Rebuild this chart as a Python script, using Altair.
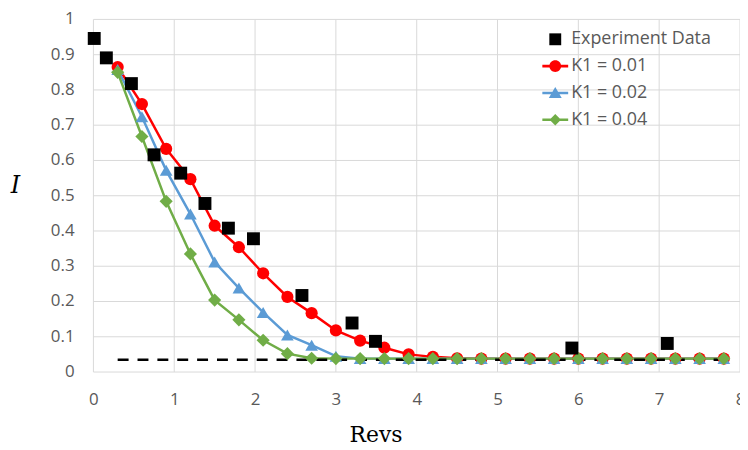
import altair as alt
import pandas as pd

# ---- data ----
series_names = ["Experiment Data", "K1 = 0.01", "K1 = 0.02", "K1 = 0.04"]
series_colors = ["#000000", "#ff0000", "#5b9bd5", "#70ad47"]

model_x = [0.3, 0.6, 0.9, 1.2, 1.5, 1.8, 2.1, 2.4, 2.7, 3.0, 3.3, 3.6, 3.9,
           4.2, 4.5, 4.8, 5.1, 5.4, 5.7, 6.0, 6.3, 6.6, 6.9, 7.2, 7.5, 7.8]
k1_001 = [0.865, 0.760, 0.633, 0.547, 0.415, 0.354, 0.280, 0.213, 0.167, 0.118, 0.089, 0.069, 0.050,
          0.043, 0.039, 0.038, 0.038, 0.038, 0.038, 0.038, 0.038, 0.038, 0.038, 0.038, 0.038, 0.038]
k1_002 = [0.858, 0.724, 0.572, 0.448, 0.312, 0.238, 0.169, 0.105, 0.076, 0.045, 0.038, 0.038, 0.038,
          0.038, 0.038, 0.038, 0.038, 0.038, 0.038, 0.038, 0.038, 0.038, 0.038, 0.038, 0.038, 0.038]
k1_004 = [0.850, 0.668, 0.484, 0.335, 0.204, 0.148, 0.090, 0.052, 0.039, 0.038, 0.038, 0.038, 0.038,
          0.038, 0.038, 0.038, 0.038, 0.038, 0.038, 0.038, 0.038, 0.038, 0.038, 0.038, 0.038, 0.038]

exp_x = [0.01, 0.16, 0.47, 0.75, 1.08, 1.38, 1.67, 1.98, 2.58, 3.20, 3.49, 5.92, 7.10]
exp_y = [0.946, 0.891, 0.818, 0.616, 0.564, 0.478, 0.408, 0.378, 0.217, 0.139, 0.087, 0.068, 0.081]

dash_x = [0.3, 7.85]
dash_y = [0.035, 0.035]

x_ticks = [0, 1, 2, 3, 4, 5, 6, 7, 8]
y_ticks = [0, 0.1, 0.2, 0.3, 0.4, 0.5, 0.6, 0.7, 0.8, 0.9, 1]

# ---- tables ----
model_rows = []
for name, vals in zip(series_names[1:], [k1_001, k1_002, k1_004]):
    for xv, yv in zip(model_x, vals):
        model_rows.append({"series": name, "x": xv, "y": yv})
model_df = pd.DataFrame(model_rows)
exp_df = pd.DataFrame({"series": series_names[0], "x": exp_x, "y": exp_y})
dash_df = pd.DataFrame({"x": dash_x, "y": dash_y})
legend_df = pd.DataFrame({"series": series_names, "x": [0] * 4, "y": [0] * 4})
xgrid_df = pd.DataFrame({"x": x_ticks})
ygrid_df = pd.DataFrame({"y": y_ticks})

GRID = "#d9d9d9"
LABEL = "#595959"

x_enc = alt.X("x:Q", scale=alt.Scale(domain=[0, 8], nice=False, zero=False),
              axis=alt.Axis(values=x_ticks, format="d", title="Revs",
                            titleFont="DejaVu Serif", titleFontSize=22, titleFontWeight="normal",
                            titleColor="#000000", titleX=284, titleY=70, titleAlign="center",
                            titleBaseline="alphabetic",
                            labelFont="Open Sans", labelFontSize=17, labelColor=LABEL,
                            labelPadding=20, ticks=False, tickSize=0, labelOverlap=False,
                            labelFlush=False, grid=False, domain=False))
y_enc = alt.Y("y:Q", scale=alt.Scale(domain=[0, 1], nice=False, zero=False),
              axis=alt.Axis(values=y_ticks, labels=False, title="I",
                            titleFont="DejaVu Serif", titleFontStyle="italic", titleFontSize=24,
                            titleFontWeight="normal", titleColor="#000000", titleAngle=0,
                            titleX=-79, titleY=167, titleAlign="center", titleBaseline="middle",
                            ticks=False, tickSize=0, grid=False, domain=False))

color_scale = alt.Scale(domain=series_names, range=series_colors)

vgrid = alt.Chart(xgrid_df).mark_rule(color=GRID, strokeWidth=1).encode(x=x_enc)
hgrid = alt.Chart(ygrid_df).mark_rule(color=GRID, strokeWidth=1).encode(y=y_enc)
ylabels = alt.Chart(ygrid_df).mark_text(
    align="right", baseline="middle", font="Open Sans", fontSize=17, color=LABEL
).encode(y=y_enc, x=alt.value(-19), text=alt.Text("y:Q", format=".1~f"))

lines = alt.Chart(model_df).mark_line(strokeWidth=2.5).encode(
    x=x_enc, y=y_enc,
    color=alt.Color("series:N", scale=color_scale, legend=None),
    detail="series:N",
)

dashed = alt.Chart(dash_df).mark_line(color="#000000", strokeWidth=2.5, strokeDash=[11, 9]).encode(
    x=x_enc, y=y_enc
)

points = alt.Chart(model_df).mark_point(filled=True, opacity=1, strokeWidth=0).encode(
    x=x_enc, y=y_enc,
    color=alt.Color("series:N", scale=color_scale, legend=None),
    shape=alt.Shape("series:N", scale=alt.Scale(domain=series_names[1:],
                                                range=["circle", "triangle-up", "diamond"]),
                    legend=None),
    size=alt.Size("series:N", scale=alt.Scale(domain=series_names[1:], range=[150, 175, 125]),
                  legend=None),
)

squares = alt.Chart(exp_df).mark_square(size=169, color="#000000", opacity=1).encode(
    x=x_enc, y=y_enc
)

legend_paths = [
    "M-0.46,-0.46L0.46,-0.46L0.46,0.46L-0.46,0.46Z",
    "M-1,-0.1L1,-0.1L1,0.1L-1,0.1Z M-0.46,0A0.46,0.46 0 1,1 0.46,0A0.46,0.46 0 1,1 -0.46,0Z",
    "M-1,-0.1L1,-0.1L1,0.1L-1,0.1Z M0,-0.46L0.5,0.4L-0.5,0.4Z",
    "M-1,-0.1L1,-0.1L1,0.1L-1,0.1Z M0,-0.44L0.44,0L0,0.44L-0.44,0Z",
]
legend_props = dict(title=None, orient="none", legendX=452, legendY=7,
                    labelFont="Open Sans", labelFontSize=18, labelColor=LABEL,
                    labelOffset=3, symbolSize=676, symbolStrokeWidth=0, rowPadding=5,
                    padding=0)

legend_layer = alt.Chart(legend_df).mark_point(filled=True, opacity=1).encode(
    x=x_enc, y=y_enc,
    color=alt.Color("series:N", scale=color_scale, legend=alt.Legend(**legend_props)),
    shape=alt.Shape("series:N", scale=alt.Scale(domain=series_names, range=legend_paths),
                    legend=alt.Legend(**legend_props)),
).transform_filter("false")

chart = alt.layer(vgrid, hgrid, lines, dashed, points, squares, ylabels, legend_layer).resolve_scale(
    color="independent", shape="independent", size="independent"
).properties(
    width=651, height=355,
    autosize=alt.AutoSizeParams(type="none"),
    padding={"left": 86, "top": 10, "right": 0, "bottom": 77},
).configure_view(strokeWidth=0)

chart.save("out.html", embed_options={"renderer": "svg", "actions": False})
